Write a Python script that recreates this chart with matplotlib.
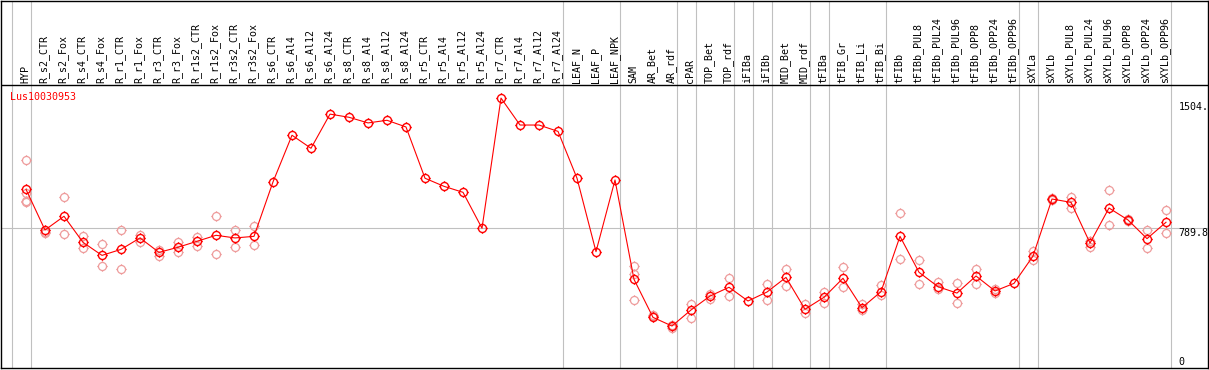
"""
Expression profile of Lus10030953 across flax tissues / treatments
"""
import matplotlib
matplotlib.use("Agg")
import matplotlib.pyplot as plt
from matplotlib.path import Path

gene = "Lus10030953"

samples = [
    "HYP", "R_s2_CTR", "R_s2_Fox", "R_s4_CTR", "R_s4_Fox", "R_r1_CTR", "R_r1_Fox",
    "R_r3_CTR", "R_r3_Fox", "R_r1s2_CTR", "R_r1s2_Fox", "R_r3s2_CTR", "R_r3s2_Fox",
    "R_s6_CTR", "R_s6_Al4", "R_s6_Al12", "R_s6_Al24", "R_s8_CTR", "R_s8_Al4",
    "R_s8_Al12", "R_s8_Al24", "R_r5_CTR", "R_r5_Al4", "R_r5_Al12", "R_r5_Al24",
    "R_r7_CTR", "R_r7_Al4", "R_r7_Al12", "R_r7_Al24", "LEAF_N", "LEAF_P", "LEAF_NPK",
    "SAM", "AR_Bet", "AR_rdf", "cPAR", "TOP_Bet", "TOP_rdf", "iFIBa", "iFIBb",
    "MID_Bet", "MID_rdf", "tFIBa", "tFIB_Gr", "tFIB_Li", "tFIB_Bi", "tFIBb",
    "tFIBb_PUL8", "tFIBb_PUL24", "tFIBb_PUL96", "tFIBb_OPP8", "tFIBb_OPP24",
    "tFIBb_OPP96", "sXYLa", "sXYLb", "sXYLb_PUL8", "sXYLb_PUL24", "sXYLb_PUL96",
    "sXYLb_OPP8", "sXYLb_OPP24", "sXYLb_OPP96",
]

means = [
    1011, 780, 858, 710, 636, 670, 735, 653, 682, 716, 750, 735, 744,
    1053, 1318, 1244, 1438, 1420, 1388, 1403, 1365, 1074, 1028, 994, 790,
    1529, 1376, 1376, 1340, 1074, 657, 1064,
    500, 284, 235, 326, 405, 455, 377, 428, 511, 330, 398, 506, 339, 430,
    744, 540, 458, 422, 519, 434, 477, 632, 956, 937, 706, 905, 837, 731, 824,
]

replicates = [
    [1177, 992, 946, 941], [770, 765], [966, 756], [746, 676], [699, 574],
    [778, 557], [750, 714], [668, 634], [714, 657], [739, 691], [858, 642],
    [778, 682], [801, 693],
    [], [], [], [], [], [], [], [], [], [], [], [], [], [], [], [], [], [], [],
    [576, 529, 381], [297, 290], [222, 241], [360, 282], [418, 388], [506, 404],
    [], [472, 381], [559, 460], [362, 307], [428, 367], [570, 455], [362, 326],
    [468, 409], [875, 614], [608, 472], [485, 443], [479, 366], [559, 472],
    [445, 422], [], [661, 608], [949, 963], [967, 907], [718, 685], [1007, 807],
    [842, 831], [778, 676], [894, 761],
]

# groups end after these sample indices
group_ends = [-1, 0, 28, 31, 34, 35, 37, 38, 39, 41, 42, 45, 52, 53, 60]

y_ticks = [0, 789.8, 1504]
y_tick_labels = ["0", "789.8", "1504."]


def ring_marker():
    """circle with four little ticks, like the eFP plot markers"""
    circle = Path.circle((0, 0), 0.78)
    verts = [(0, 0.78), (0, 1), (0, -0.78), (0, -1), (0.78, 0), (1, 0), (-0.78, 0), (-1, 0)]
    ticks = Path(verts, [Path.MOVETO, Path.LINETO] * 4)
    return Path.make_compound_path(circle, ticks)


def plot_profile(save_path="out.png"):
    W, H = 1209, 370
    fig = plt.figure(figsize=(W / 100, H / 100), dpi=100)

    # pixel geometry of the frame
    left_px, right_px, top_px, bottom_px = 1, 1207.5, 0.5, 368
    ax = fig.add_axes([left_px / W, (H - bottom_px) / H,
                       (right_px - left_px) / W, (bottom_px - top_px) / H])

    # x: sample i sits at 26 + 19*i px ; y: 0 at 367.4 px, 0.17614 px per unit
    x0, dx = 26, 19
    y0, k = 367.4, 0.17614
    ax.set_xlim((left_px - x0) / dx, (right_px - x0) / dx)
    ax.set_ylim((y0 - bottom_px) / k, (y0 - top_px) / k)
    header = (y0 - 85.3) / k
    label_base = (y0 - 83) / k

    mono = "DejaVu Sans Mono"
    fs = 7.2

    for g in group_ends:
        ax.axvline(g + 0.25, color="#c0c0c0", lw=0.8, zorder=1)
    ax.axhline(y_ticks[1], color="#c0c0c0", lw=0.8, zorder=1)
    ax.axhline(header, color="black", lw=1.0, zorder=4)

    marker = ring_marker()
    for i, reps in enumerate(replicates):
        if reps:
            ax.plot([i] * len(reps), reps, linestyle="none", marker=marker,
                    markersize=7.4, markerfacecolor="none", markeredgecolor="#ee9c9c",
                    markeredgewidth=0.9, zorder=2)

    xs = list(range(len(samples)))
    ax.plot(xs, means, color="red", lw=0.8, marker=marker, markersize=7.4,
            markerfacecolor="none", markeredgecolor="red", markeredgewidth=1.0,
            zorder=3)

    for i, name in enumerate(samples):
        ax.text(i - 0.05, label_base, name, rotation=90, ha="center", va="bottom",
                family=mono, fontsize=fs, color="black")

    ax.text((10 - x0) / dx, (y0 - 97.3) / k, gene, ha="left", va="center",
            family=mono, fontsize=fs, color="red")

    tick_x = (1178.5 - x0) / dx
    ax.text(tick_x, y_ticks[2], y_tick_labels[2], ha="left", va="top",
            family=mono, fontsize=fs)
    ax.text(tick_x, y_ticks[1], y_tick_labels[1], ha="left", va="top",
            family=mono, fontsize=fs)
    ax.text(tick_x, y_ticks[0], y_tick_labels[0], ha="left", va="bottom",
            family=mono, fontsize=fs)

    ax.set_xticks([])
    ax.set_yticks([])
    for sp in ax.spines.values():
        sp.set_linewidth(1.0)
        sp.set_color("black")

    fig.savefig(save_path, dpi=100)


if __name__ in "__main__":
    plot_profile("out.png")
